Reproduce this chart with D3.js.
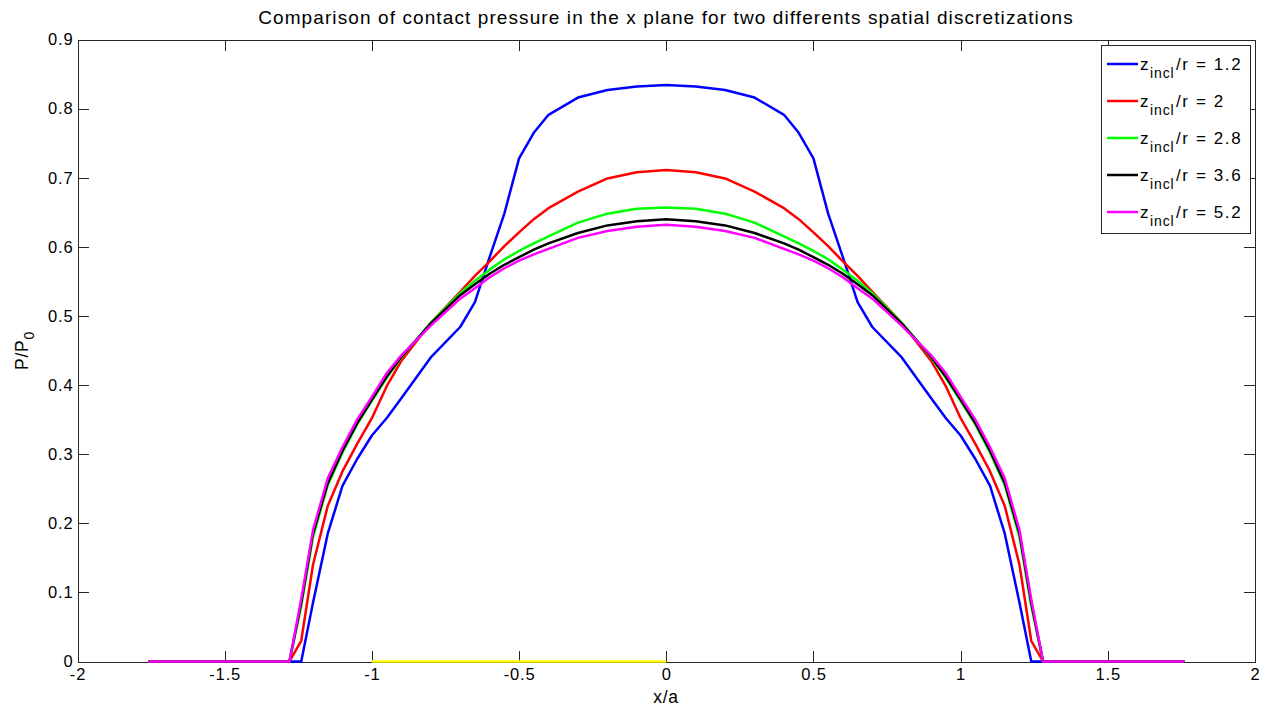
<!DOCTYPE html>
<html>
<head>
<meta charset="utf-8">
<script src="https://cdn.jsdelivr.net/npm/d3@7"></script>
<style>
  html, body { margin: 0; padding: 0; background: #fff; }
  svg { display: block; font-family: "Liberation Sans", Arial, Helvetica, sans-serif; }
</style>
</head>
<body>
<svg id="chart" width="1269" height="709"></svg>
<script>
// Normalised abscissa x/a shared by all pressure profiles
const xPos = [-1.76, -1.28, -1.24, -1.2, -1.15, -1.1, -1.05, -1.0, -0.95, -0.9, -0.8, -0.7, -0.65, -0.6, -0.55, -0.5, -0.45, -0.4, -0.3, -0.2, -0.1,
  0,
  0.1, 0.2, 0.3, 0.4, 0.45, 0.5, 0.55, 0.6, 0.65, 0.7, 0.8, 0.9, 0.95, 1.0, 1.05, 1.1, 1.15, 1.2, 1.24, 1.28, 1.76];

// P/P0 for each inclusion depth z_incl/r
const p12 = [0, 0, 0, 0.085, 0.185, 0.254, 0.293, 0.327, 0.352, 0.381, 0.440, 0.484, 0.520, 0.585, 0.648, 0.728, 0.765, 0.791, 0.816, 0.827, 0.832,
  0.834,
  0.832, 0.827, 0.816, 0.791, 0.765, 0.728, 0.648, 0.585, 0.520, 0.484, 0.440, 0.381, 0.352, 0.327, 0.293, 0.254, 0.185, 0.085, 0, 0, 0];
const p20 = [0, 0, 0.030, 0.140, 0.225, 0.275, 0.315, 0.352, 0.398, 0.435, 0.490, 0.535, 0.558, 0.579, 0.601, 0.621, 0.640, 0.656, 0.680, 0.699, 0.708,
  0.711,
  0.708, 0.699, 0.680, 0.656, 0.640, 0.621, 0.601, 0.579, 0.558, 0.535, 0.490, 0.435, 0.398, 0.352, 0.315, 0.275, 0.225, 0.140, 0.030, 0, 0];
const p28 = [0, 0, 0.080, 0.180, 0.255, 0.302, 0.343, 0.377, 0.410, 0.440, 0.490, 0.533, 0.551, 0.567, 0.582, 0.594, 0.605, 0.615, 0.635, 0.648, 0.655,
  0.657,
  0.655, 0.648, 0.635, 0.615, 0.605, 0.594, 0.582, 0.567, 0.551, 0.533, 0.490, 0.440, 0.410, 0.377, 0.343, 0.302, 0.255, 0.180, 0.080, 0, 0];
const p36 = [0, 0, 0.085, 0.185, 0.258, 0.305, 0.345, 0.379, 0.412, 0.441, 0.489, 0.530, 0.546, 0.561, 0.574, 0.585, 0.596, 0.605, 0.620, 0.631, 0.637,
  0.640,
  0.637, 0.631, 0.620, 0.605, 0.596, 0.585, 0.574, 0.561, 0.546, 0.530, 0.489, 0.441, 0.412, 0.379, 0.345, 0.305, 0.258, 0.185, 0.085, 0, 0];
const p52 = [0, 0, 0.090, 0.190, 0.265, 0.310, 0.350, 0.383, 0.417, 0.443, 0.486, 0.525, 0.540, 0.556, 0.569, 0.580, 0.589, 0.597, 0.613, 0.623, 0.629,
  0.632,
  0.629, 0.623, 0.613, 0.597, 0.589, 0.580, 0.569, 0.556, 0.540, 0.525, 0.486, 0.443, 0.417, 0.383, 0.350, 0.310, 0.265, 0.190, 0.090, 0, 0];

// Reference segment along the zero line
const refX = [-1, 0];
const refY = [0, 0];

const seriesNames = ["1.2", "2", "2.8", "3.6", "5.2"];
const seriesColors = ["#0000ff", "#ff0000", "#00ff00", "#000000", "#ff00ff"];
const seriesValues = [p12, p20, p28, p36, p52];

const xTicks = [-2, -1.5, -1, -0.5, 0, 0.5, 1, 1.5, 2];
const yTicks = [0, 0.1, 0.2, 0.3, 0.4, 0.5, 0.6, 0.7, 0.8, 0.9];

const titleText = "Comparison of contact pressure in the x plane for two differents spatial discretizations";

const svg = d3.select("#chart");
const plotLeft = 77.5, plotRight = 1255, plotTop = 39.5, plotBottom = 661.5;

const x = d3.scaleLinear().domain([-2, 2]).range([plotLeft, plotRight]);
const y = d3.scaleLinear().domain([0, 0.9]).range([plotBottom, plotTop]);

const fmt = d => String(d);

// Axes with inward ticks on all four sides
function styleAxis(g) {
  g.selectAll("path.domain").attr("stroke", "#262626").attr("shape-rendering", "crispEdges");
  g.selectAll(".tick line").attr("stroke", "#262626").attr("shape-rendering", "crispEdges");
  g.selectAll("text").attr("fill", "#000").attr("font-size", 16.5)
    .attr("letter-spacing", "0.85px")
    .attr("font-family", "'Liberation Sans', Arial, sans-serif");
}

svg.append("g").attr("transform", `translate(0,${plotBottom})`)
  .call(d3.axisBottom(x).tickValues(xTicks).tickFormat(fmt).tickSizeInner(-11).tickSizeOuter(0).tickPadding(7))
  .call(styleAxis);
svg.append("g").attr("transform", `translate(0,${plotTop})`)
  .call(d3.axisTop(x).tickValues(xTicks).tickFormat("").tickSizeInner(-11).tickSizeOuter(0))
  .call(styleAxis);
svg.append("g").attr("transform", `translate(${plotLeft},0)`)
  .call(d3.axisLeft(y).tickValues(yTicks).tickFormat(fmt).tickSizeInner(-11).tickSizeOuter(0).tickPadding(4))
  .call(styleAxis);
svg.append("g").attr("transform", `translate(${plotRight},0)`)
  .call(d3.axisRight(y).tickValues(yTicks).tickFormat("").tickSizeInner(-11).tickSizeOuter(0))
  .call(styleAxis);

// Profiles
const line = d3.line().x(d => x(d[0])).y(d => y(d[1]));

svg.append("path")
  .attr("d", line(refX.map((v, i) => [v, refY[i]])))
  .attr("fill", "none").attr("stroke", "#ffff00").attr("stroke-width", 2.5);

seriesValues.forEach((vals, k) => {
  svg.append("path")
    .attr("d", line(xPos.map((v, i) => [v, vals[i]])))
    .attr("fill", "none")
    .attr("stroke", seriesColors[k])
    .attr("stroke-width", 2.5)
    .attr("stroke-linejoin", "round");
});

// Title and axis labels
svg.append("text")
  .attr("x", 666).attr("y", 24)
  .attr("text-anchor", "middle").attr("font-size", 19)
  .attr("letter-spacing", "1.1px")
  .text(titleText);

svg.append("text")
  .attr("x", 666).attr("y", 703)
  .attr("text-anchor", "middle").attr("font-size", 17.5)
  .attr("letter-spacing", "0.8px")
  .text("x/a");

const yl = svg.append("text")
  .attr("transform", `translate(28,${(plotTop + plotBottom) / 2}) rotate(-90)`)
  .attr("text-anchor", "middle").attr("font-size", 17.5)
  .attr("letter-spacing", "0.8px");
yl.append("tspan").text("P/P");
yl.append("tspan").attr("dy", 6).attr("font-size", 14).text("0");

// Legend
const legend = svg.append("g");
legend.append("rect")
  .attr("x", 1101.5).attr("y", 45.5).attr("width", 149).attr("height", 187.5)
  .attr("fill", "#fff").attr("stroke", "#262626").attr("stroke-width", 1)
  .attr("shape-rendering", "crispEdges");

const rowY = d3.scaleLinear().domain([0, seriesNames.length - 1]).range([64, 212]);
seriesNames.forEach((name, k) => {
  const yy = rowY(k);
  legend.append("line")
    .attr("x1", 1107).attr("x2", 1138).attr("y1", yy).attr("y2", yy)
    .attr("stroke", seriesColors[k]).attr("stroke-width", 2.5);
  const t = legend.append("text").attr("y", yy + 6).attr("font-size", 17).attr("letter-spacing", "1.6px");
  t.append("tspan").attr("x", 1140).attr("letter-spacing", "0px").text("z");
  t.append("tspan").attr("x", 1150).attr("dy", 8).attr("font-size", 14).attr("letter-spacing", "0.9px").text("incl");
  t.append("tspan").attr("x", 1176).attr("dy", -8).text("/r = " + name);
});
</script>
</body>
</html>
